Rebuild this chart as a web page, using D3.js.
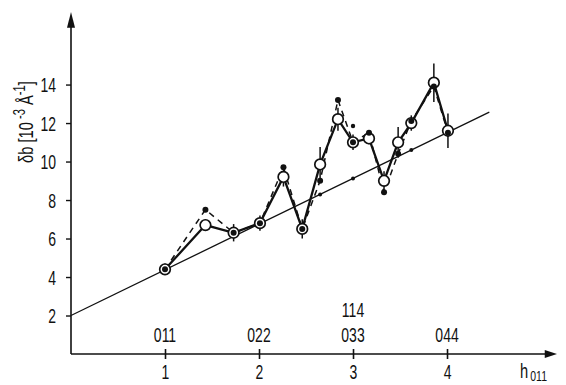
<!DOCTYPE html>
<html>
<head>
<meta charset="utf-8">
<script src="https://cdn.jsdelivr.net/npm/d3@7"></script>
<style>
  html, body { margin: 0; padding: 0; background: #fff; }
  svg { display: block; }
  text { font-family: "Liberation Sans", Arial, sans-serif; fill: #111; }
</style>
</head>
<body>
<svg id="chart" width="566" height="385"></svg>
<script>
// Reflection positions along h(011)
const hValues = [1.0, 1.43, 1.73, 2.01, 2.26, 2.46, 2.65, 2.84, 3.0, 3.17, 3.33, 3.48, 3.62, 3.86, 4.01];
// Measured δb (open circles, solid line), units 10^-3 Å^-1
const measured = [4.4, 6.7, 6.3, 6.8, 9.2, 6.5, 9.85, 12.2, 11.0, 11.2, 9.0, 11.0, 12.0, 14.1, 11.6];
// Uncertainty of the measured values
const measuredErr = [0.3, 0.3, 0.45, 0.4, 0.5, 0.5, 0.9, 0.6, 0.4, 0.3, 0.5, 0.8, 0.4, 1.0, 0.9];
// Second data set (small dots, dashed line)
const second = [4.4, 7.5, 6.3, 6.8, 9.7, 6.5, 9.0, 13.2, 11.0, 11.5, 8.4, 10.4, 12.1, 13.9, 11.5];
// Single extra point
const extraH = [3.0];
const extraV = [11.85];
// Linear background δb = a + b·h
const fitIntercept = 2.0;
const fitSlope = 2.375;
const fitEnd = 4.45;
const fitMarksH = [2.65, 3.0, 3.62];
// Axis ticks and reflection labels
const yTicks = [2, 4, 6, 8, 10, 12, 14];
const xTicks = [1, 2, 3, 4];
const hklLabels = ["011", "022", "033", "044"];
const hklExtra = [{ h: 3, label: "114" }];

const SQUEEZE = 0.7; // narrow lettering

// Turn x/y placement of a text into a transform so it can be squeezed horizontally
function condense(sel, rotate) {
  sel.each(function () {
    const t = d3.select(this);
    const tx = +t.attr("x") || 0, ty = +t.attr("y") || 0;
    t.attr("x", null).attr("y", null)
      .attr("transform", `translate(${tx},${ty})${rotate ? ` rotate(${rotate})` : ""} scale(${SQUEEZE},1)`);
  });
}

const svg = d3.select("#chart");
const x = d3.scaleLinear().domain([0, 5.17]).range([71, 557]);
const y = d3.scaleLinear().domain([0, 17.77]).range([354, 12]);

// Y axis
const yAxis = svg.append("g").attr("transform", `translate(${x(0)},0)`)
  .call(d3.axisLeft(y).tickValues(yTicks).tickSize(5).tickFormat(d3.format("d")));
yAxis.select(".domain").attr("d", `M0,${y(0)}V${y(17.2)}`).attr("stroke", "#111").attr("stroke-width", 1.6);
yAxis.selectAll(".tick line").attr("stroke", "#111").attr("stroke-width", 1.4);
yAxis.selectAll(".tick text").attr("font-size", 20).attr("font-family", null).attr("fill", "#111")
  .attr("x", -15).attr("y", 7).attr("dy", null).call(condense);
svg.append("path")
  .attr("d", `M${x(0)},${y(17.77)}L${x(0) - 4},${y(16.95)}L${x(0) + 4},${y(16.95)}Z`)
  .attr("fill", "#111");

// X axis
const xAxis = svg.append("g").attr("transform", `translate(0,${y(0)})`)
  .call(d3.axisBottom(x).tickValues(xTicks).tickSize(5).tickFormat(d3.format("d")));
xAxis.select(".domain").attr("d", `M${x(0)},0H${x(5.06)}`).attr("stroke", "#111").attr("stroke-width", 1.6);
xAxis.selectAll(".tick line").attr("y1", -5).attr("y2", 5).attr("stroke", "#111").attr("stroke-width", 1.6);
xAxis.selectAll(".tick text").attr("font-size", 20).attr("font-family", null).attr("fill", "#111")
  .attr("x", 0).attr("y", 25).attr("dy", null).call(condense);
svg.append("path")
  .attr("d", `M${x(5.17)},${y(0)}L${x(5.04)},${y(0) - 4}L${x(5.04)},${y(0) + 4}Z`)
  .attr("fill", "#111");

// Reflection indices above the x axis
svg.append("g").selectAll("text").data(xTicks).join("text")
  .attr("x", d => x(d)).attr("y", 342).attr("text-anchor", "middle").attr("font-size", 20)
  .text((d, i) => hklLabels[i]).call(condense);
svg.append("g").selectAll("text").data(hklExtra).join("text")
  .attr("x", d => x(d.h)).attr("y", 317).attr("text-anchor", "middle").attr("font-size", 20)
  .text(d => d.label).call(condense);

// Axis titles
const xt = svg.append("text").attr("x", 520).attr("y", 378).attr("font-size", 21);
xt.append("tspan").text("h");
xt.append("tspan").attr("dx", 3).attr("dy", 3).attr("font-size", 15).text("011");
xt.call(condense);

const yt = svg.append("text").attr("x", 33).attr("y", 122)
  .attr("text-anchor", "middle").attr("font-size", 21);
yt.append("tspan").text("δb [10");
yt.append("tspan").attr("dy", -8).attr("font-size", 16).text(" -3");
yt.append("tspan").attr("dy", 8).text(" Å");
yt.append("tspan").attr("dy", -8).attr("font-size", 16).text("-1");
yt.append("tspan").attr("dy", 8).text("]");
yt.call(condense, -90);

// Linear background
svg.append("line")
  .attr("x1", x(0)).attr("y1", y(fitIntercept))
  .attr("x2", x(fitEnd)).attr("y2", y(fitIntercept + fitSlope * fitEnd))
  .attr("stroke", "#111").attr("stroke-width", 1.3);
svg.append("g").selectAll("circle").data(fitMarksH).join("circle")
  .attr("cx", d => x(d)).attr("cy", d => y(fitIntercept + fitSlope * d)).attr("r", 2)
  .attr("fill", "#111");

const pts = hValues.map((h, i) => ({ h, v: measured[i], e: measuredErr[i], s: second[i] }));

// Dashed second series
svg.append("path").datum(pts)
  .attr("d", d3.line().x(d => x(d.h)).y(d => y(d.s)))
  .attr("fill", "none").attr("stroke", "#111").attr("stroke-width", 1.5)
  .attr("stroke-dasharray", "6,5");

// Solid measured series
svg.append("path").datum(pts)
  .attr("d", d3.line().x(d => x(d.h)).y(d => y(d.v)))
  .attr("fill", "none").attr("stroke", "#111").attr("stroke-width", 2.3);

// Error bars
svg.append("g").selectAll("line").data(pts).join("line")
  .attr("x1", d => x(d.h)).attr("x2", d => x(d.h))
  .attr("y1", d => y(d.v - d.e)).attr("y2", d => y(d.v + d.e))
  .attr("stroke", "#111").attr("stroke-width", 1.5);

// Open circles
svg.append("g").selectAll("circle").data(pts).join("circle")
  .attr("cx", d => x(d.h)).attr("cy", d => y(d.v)).attr("r", 5.3)
  .attr("fill", "#fff").attr("stroke", "#111").attr("stroke-width", 1.7);

// Small dots of the second series
svg.append("g").selectAll("circle").data(pts).join("circle")
  .attr("cx", d => x(d.h)).attr("cy", d => y(d.s)).attr("r", 3)
  .attr("fill", "#111");
svg.append("g").selectAll("circle").data(extraH).join("circle")
  .attr("cx", d => x(d)).attr("cy", (d, i) => y(extraV[i])).attr("r", 2.2)
  .attr("fill", "#111");
</script>
</body>
</html>
